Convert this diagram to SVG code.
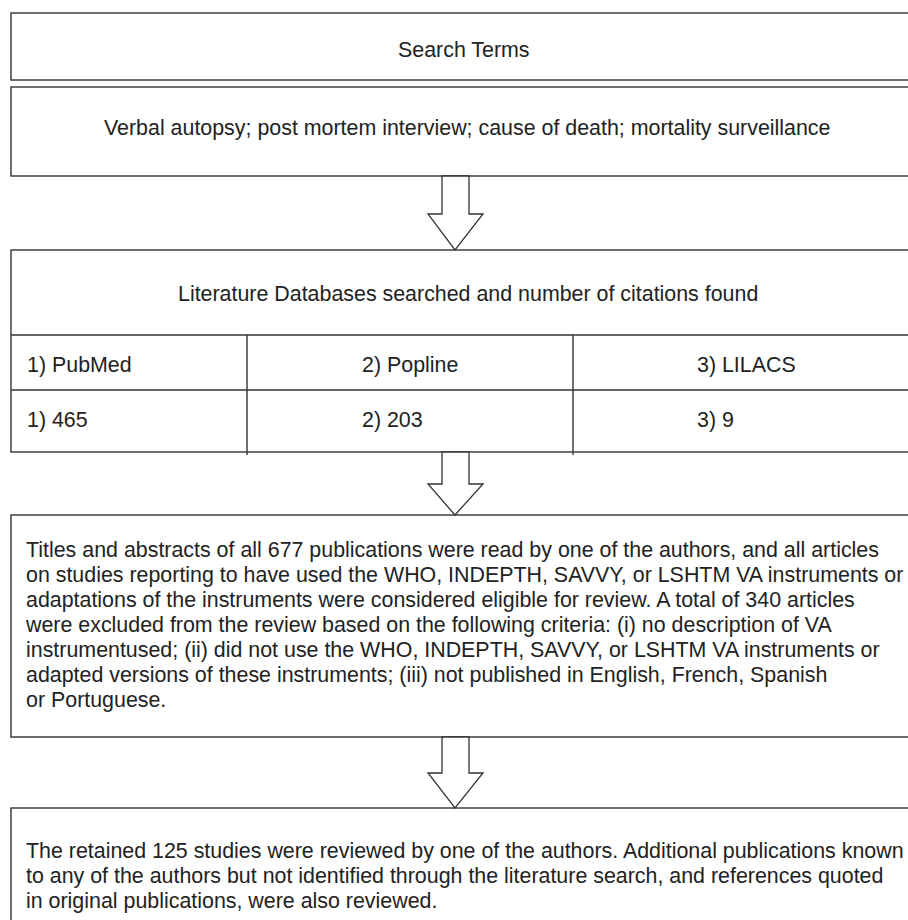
<svg xmlns="http://www.w3.org/2000/svg" width="908" height="920" viewBox="0 0 908 920">
<style>
.box{fill:#fff;stroke:#333;stroke-width:1.4}
.ln{stroke:#333;stroke-width:1.4;fill:none}
.arr{fill:#fff;stroke:#333;stroke-width:1.3;stroke-linejoin:miter}
text{font-family:"Liberation Sans",Arial,sans-serif;font-size:21.4px;fill:#222}
</style>
<rect width="908" height="920" fill="#fff"/>
<g id="search-terms">
<rect class="box" x="11" y="13" width="930" height="67"/>
<text x="398" y="57">Search Terms</text>
</g>
<g id="terms">
<rect class="box" x="11" y="87" width="930" height="89"/>
<text x="104" y="135">Verbal autopsy; post mortem interview; cause of death; mortality surveillance</text>
</g>
<g id="databases">
<rect class="box" x="11" y="250" width="930" height="202"/>
<line class="ln" x1="11" y1="335" x2="941" y2="335"/>
<line class="ln" x1="11" y1="390" x2="941" y2="390"/>
<line class="ln" x1="247" y1="335" x2="247" y2="455"/>
<line class="ln" x1="573" y1="335" x2="573" y2="455"/>
<text x="178" y="301">Literature Databases searched and number of citations found</text>
<text x="27" y="372">1) PubMed</text>
<text x="362" y="372">2) Popline</text>
<text x="697" y="372">3) LILACS</text>
<text x="27" y="427">1) 465</text>
<text x="362" y="427">2) 203</text>
<text x="697" y="427">3) 9</text>
</g>
<g id="screening">
<rect class="box" x="11" y="515" width="930" height="222"/>
<text x="26" y="557">Titles and abstracts of all 677 publications were read by one of the authors, and all articles</text>
<text x="26" y="582">on studies reporting to have used the WHO, INDEPTH, SAVVY, or LSHTM VA instruments or</text>
<text x="26" y="607">adaptations of the instruments were considered eligible for review. A total of 340 articles</text>
<text x="26" y="632">were excluded from the review based on the following criteria: (i) no description of VA</text>
<text x="26" y="657">instrumentused; (ii) did not use the WHO, INDEPTH, SAVVY, or LSHTM VA instruments or</text>
<text x="26" y="682">adapted versions of these instruments; (iii) not published in English, French, Spanish</text>
<text x="26" y="707">or Portuguese.</text>
</g>
<g id="retained">
<rect class="box" x="11" y="808" width="930" height="140"/>
<text x="26" y="858">The retained 125 studies were reviewed by one of the authors. Additional publications known</text>
<text x="26" y="883">to any of the authors but not identified through the literature search, and references quoted</text>
<text x="26" y="908">in original publications, were also reviewed.</text>
</g>
<g id="connectors">
<polygon class="arr" points="442,176 469,176 469,214 483,214 455,250 428,214 442,214"/>
<polygon class="arr" points="442,452 469,452 469,484 483,484 455,515 428,484 442,484"/>
<polygon class="arr" points="442,737 469,737 469,773 483,773 455,808 428,773 442,773"/>
</g>
</svg>
